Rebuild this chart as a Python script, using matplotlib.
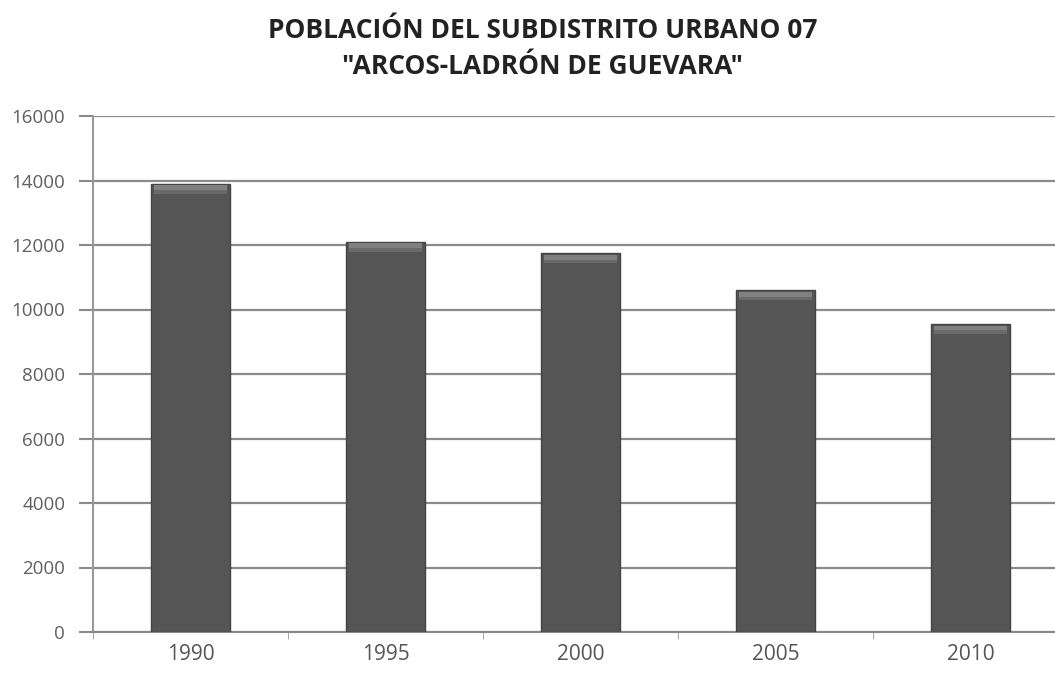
import numpy as np
import matplotlib.pyplot as plt

# --- data ---
years = ["1990", "1995", "2000", "2005", "2010"]
poblacion = [13900, 12100, 11750, 10600, 9550]
y_ticks = [0, 2000, 4000, 6000, 8000, 10000, 12000, 14000, 16000]

plt.rcParams['font.family'] = ['Open Sans', 'DejaVu Sans']

fig = plt.figure(figsize=(10.55, 6.73), dpi=100)
# plot area runs a little past the right edge, like the cropped original
ax = fig.add_axes([93 / 1055, 41 / 673, (1068 - 93) / 1055, (632 - 116) / 673])

x = np.arange(len(years))
vals = np.array(poblacion)

# bars: dark body plus a lighter cap just under the top edge
ax.bar(x, vals, width=0.41, color='#555555', edgecolor='#444444', linewidth=1, zorder=3)
ax.bar(x, np.full(len(vals), 150), bottom=vals - 200, width=0.37,
       color='#808080', linewidth=0, zorder=4)
ax.bar(x, np.full(len(vals), 120), bottom=vals - 320, width=0.37,
       color='#6a6a6a', linewidth=0, zorder=4)

ax.set_xlim(-0.5, len(years) - 0.5)
ax.set_ylim(0, 16000)
ax.set_yticks(y_ticks)
ax.set_yticklabels([str(t) for t in y_ticks], fontsize=13.5, color='#606060')
ax.yaxis.grid(True, color='#8a8a8a', linewidth=1.6, zorder=0)

ax.set_xticks(x)
ax.set_xticklabels(years, fontsize=15, color='#555555')
ax.tick_params(axis='x', length=0, pad=9)
ax.set_xticks(np.arange(-0.5, len(years), 1.0), minor=True)
ax.tick_params(axis='x', which='minor', length=5, color='#999999', direction='out')
ax.tick_params(axis='y', length=10, color='#8a8a8a', width=1.5, pad=10)

for side in ['top', 'right']:
    ax.spines[side].set_visible(False)
ax.spines['left'].set_color('#999999')
ax.spines['left'].set_linewidth(1.5)
ax.spines['bottom'].set_color('#888888')
ax.spines['bottom'].set_linewidth(1.5)

fig.text(543 / 1055, 1 - 31 / 673, "POBLACIÓN DEL SUBDISTRITO URBANO 07",
         ha='center', va='center', fontsize=19, fontweight='bold', color='#222222')
fig.text(543 / 1055, 1 - 66 / 673, '"ARCOS-LADRÓN DE GUEVARA"',
         ha='center', va='center', fontsize=19, fontweight='bold', color='#222222')

fig.savefig('out.png', dpi=100)
